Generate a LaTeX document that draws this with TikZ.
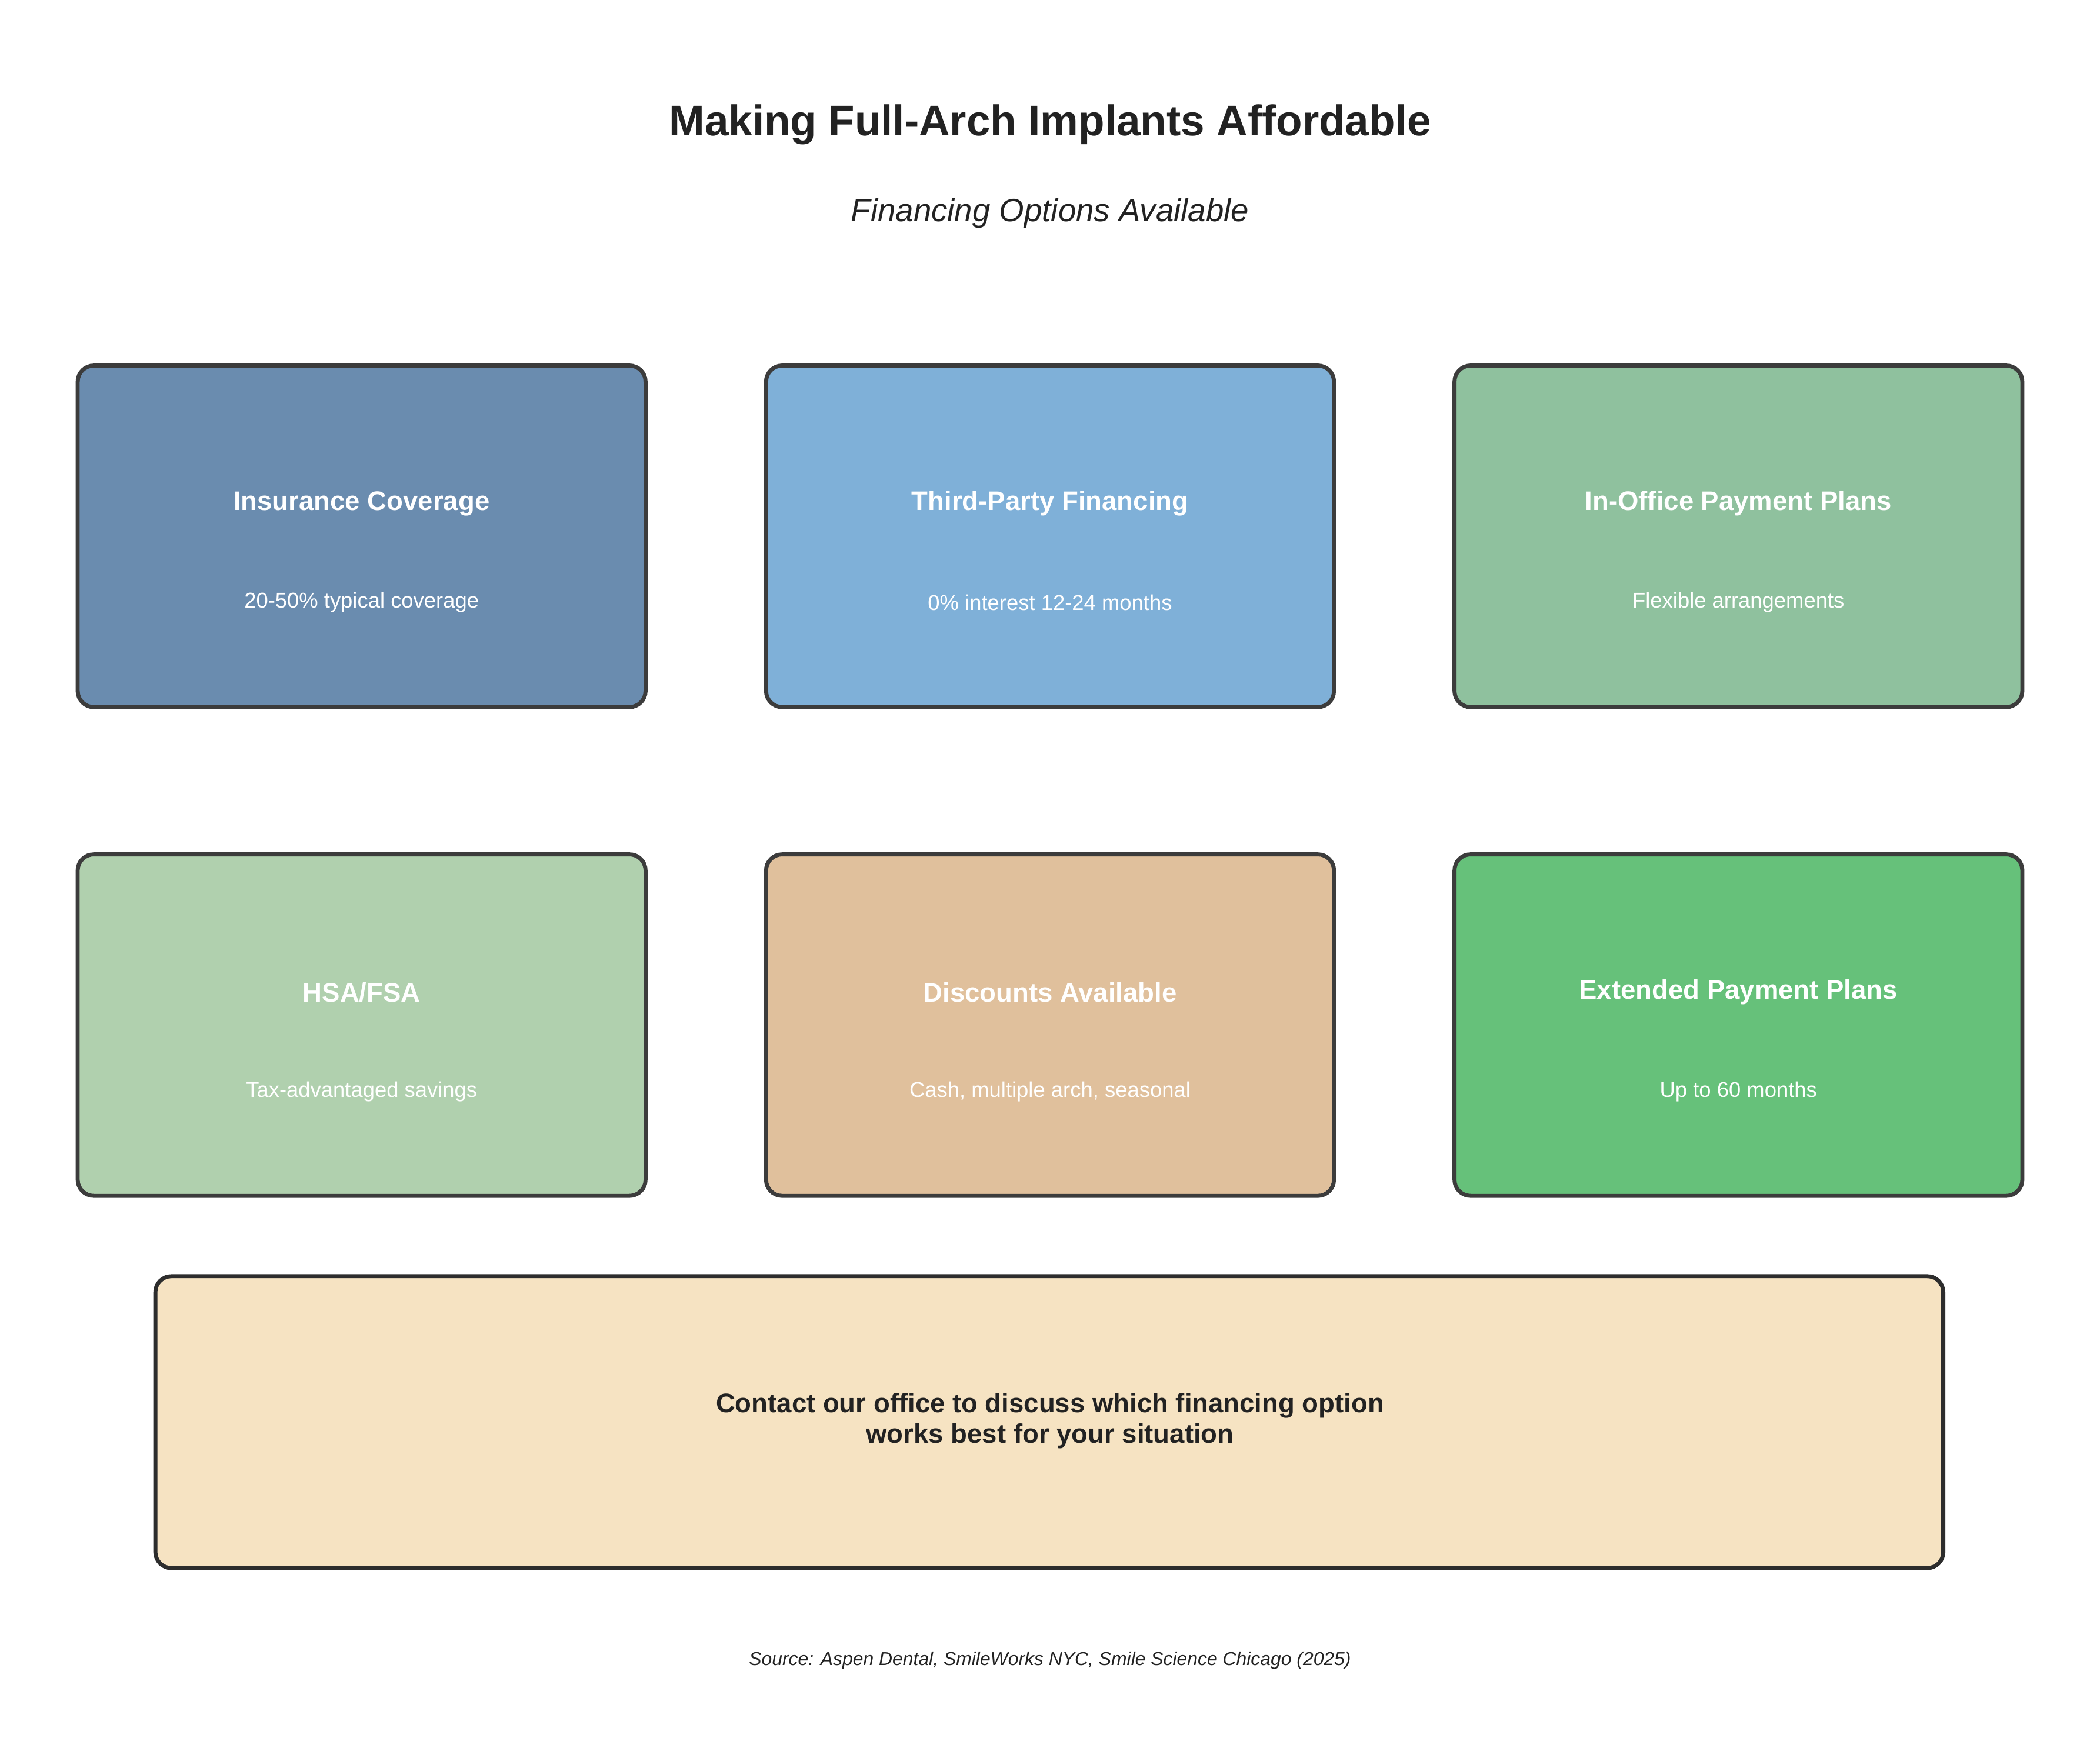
\documentclass[tikz,border=0pt]{standalone}
\usepackage{fontspec}
\setmainfont{Liberation Sans}
\definecolor{c1}{HTML}{6A8CAF}
\definecolor{c2}{HTML}{7FB0D8}
\definecolor{c3}{HTML}{8FC19E}
\definecolor{c4}{HTML}{B0D0AE}
\definecolor{c5}{HTML}{E0C09C}
\definecolor{c6}{HTML}{66C17A}
\definecolor{c7}{HTML}{F6E3C2}
\definecolor{edge}{HTML}{3C3C3C}
\definecolor{ink}{HTML}{222222}
\begin{document}
\begin{tikzpicture}[x=1pt,y=-1pt,
 card/.style={draw=edge,line width=3pt,rounded corners=12pt},
 ctitle/.style={text=white,font=\fontsize{20}{24}\selectfont\bfseries},
 csub/.style={text=white,font=\fontsize{16}{19}\selectfont}]
\useasboundingbox (0,0) rectangle (1568,1305);
\node[font=\fontsize{32}{38}\selectfont\bfseries,text=ink] (title) at (784,93) {Making Full-Arch Implants Affordable};
\node[font=\fontsize{24}{29}\selectfont\itshape,text=ink] (sub) at (784,159) {Financing Options Available};
\foreach \n/\x/\y/\c/\t/\s in {
 a/58/273/c1/Insurance Coverage/20-50\% typical coverage,
 b/572/273/c2/Third-Party Financing/0\% interest 12-24 months,
 c/1086/273/c3/In-Office Payment Plans/Flexible arrangements,
 d/58/638/c4/HSA\slash FSA/Tax-advantaged savings,
 e/572/638/c5/Discounts Available/{Cash, multiple arch, seasonal},
 f/1086/638/c6/Extended Payment Plans/Up to 60 months}{
 \draw[card,fill=\c] (\x,\y) rectangle ++(424,255);
 \node[ctitle] (\n t) at (\x+212,\y+103) {\t};
 \node[csub] (\n s) at (\x+212,\y+177) {\s};
}
\draw[card,fill=c7,draw=ink!95] (116,953) rectangle (1451,1171);
\node[font=\fontsize{20}{23}\selectfont\bfseries,text=ink,align=center] (cta) at (784,1061) {Contact our office to discuss which financing option\\works best for your situation};
\node[font=\fontsize{14}{17}\selectfont\itshape,text=ink] (src) at (784,1240) {Source: Aspen Dental, SmileWorks NYC, Smile Science Chicago (2025)};
\end{tikzpicture}
\end{document}
